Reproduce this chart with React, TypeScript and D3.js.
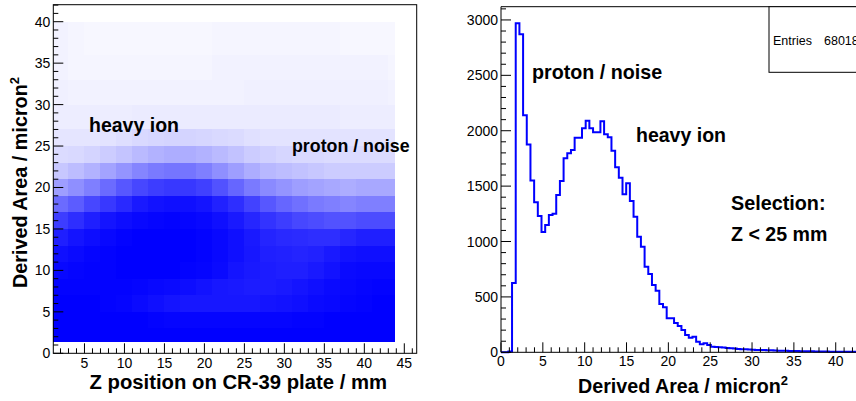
import React from 'react';
import * as d3 from 'd3';

// ---- left panel: Z position vs derived area, shown as a coverage map (% of pixels filled) ----
const zEdges = [1.1, 3, 5, 7, 9, 11, 13, 15, 17, 19, 21, 23, 25, 27, 29, 31, 33, 35, 37, 39, 41, 43, 43.8];
const areaEdges = [1.4, 3, 5, 7, 9, 11, 13, 15, 17, 19, 21, 23, 25, 27, 30, 33, 36, 40];
// one row per area band, bottom to top; one value per Z column
const coverage = [
  [100, 100, 100, 100, 100, 100, 100, 100, 100, 100, 100, 100, 100, 100, 100, 100, 100, 100, 100, 100, 100, 100],
  [100, 100, 100, 100, 100, 100, 99, 98, 98, 98, 98, 98, 98, 98, 98, 99, 99, 100, 100, 100, 100, 100],
  [100, 100, 100, 99, 98, 96, 94, 92, 91, 91, 91, 91, 91, 92, 93, 94, 96, 97, 98, 99, 100, 100],
  [99, 99, 99, 99, 99, 98, 97, 96, 95, 93, 91, 90, 89, 89, 90, 92, 94, 96, 97, 98, 99, 99],
  [97, 98, 99, 99, 100, 100, 100, 100, 99, 98, 96, 92, 90, 89, 88, 88, 90, 93, 96, 97, 97, 97],
  [94, 96, 98, 99, 100, 100, 100, 100, 100, 99, 97, 94, 91, 88, 87, 86, 87, 90, 93, 94, 94, 94],
  [88, 92, 95, 97, 99, 100, 100, 100, 100, 99, 97, 94, 90, 86, 84, 83, 82, 82, 85, 88, 88, 88],
  [76, 82, 88, 92, 95, 97, 98, 99, 98, 97, 94, 90, 85, 80, 76, 72, 70, 68, 68, 70, 70, 70],
  [58, 64, 72, 78, 84, 90, 93, 94, 94, 92, 87, 82, 74, 66, 60, 56, 52, 50, 48, 50, 50, 50],
  [38, 44, 50, 58, 66, 72, 76, 78, 78, 75, 68, 60, 52, 46, 42, 38, 36, 34, 32, 34, 34, 34],
  [22, 26, 30, 36, 42, 48, 52, 54, 54, 50, 44, 38, 32, 28, 26, 24, 22, 20, 20, 20, 20, 20],
  [14, 15, 17, 20, 23, 27, 30, 32, 32, 30, 27, 24, 20, 18, 16, 15, 15, 14, 14, 14, 14, 14],
  [10, 10, 10, 11, 13, 15, 16, 17, 17, 16, 15, 14, 12, 11, 11, 11, 11, 11, 11, 11, 11, 11],
  [7, 7, 7, 7, 7, 8, 8, 8, 8, 8, 8, 8, 8, 8, 8, 8, 8, 8, 7, 7, 7, 7],
  [6, 5, 5, 5, 5, 5, 5, 5, 5, 5, 5, 5, 6, 6, 6, 6, 6, 6, 6, 6, 6, 5],
  [5, 4, 4, 4, 4, 4, 4, 4, 4, 4, 5, 5, 5, 5, 5, 5, 5, 5, 5, 5, 5, 4],
  [5, 4, 3, 3, 3, 3, 3, 3, 3, 3, 4, 4, 4, 4, 4, 4, 4, 4, 3, 3, 3, 3],
];
const zTicks = [5, 10, 15, 20, 25, 30, 35, 40, 45];
const areaTicks = [0, 5, 10, 15, 20, 25, 30, 35, 40];

// ---- right panel: histogram of derived area, 100 bins of 0.44 ----
const binWidth = 0.44;
const histCounts = [
  0, 0, 8, 625, 2970, 2870, 2140, 1875, 1550, 1355,
  1230, 1085, 1150, 1240, 1250, 1420, 1546, 1751, 1796, 1826,
  1937, 1937, 2022, 2091, 2022, 1986, 1986, 2085, 1968, 1941,
  1820, 1670, 1576, 1426, 1526, 1366, 1224, 1044, 953, 773,
  707, 608, 556, 436, 406, 307, 307, 264, 237, 201,
  156, 132, 141, 96, 72, 81, 66, 51, 47, 45,
  44, 38, 36, 34, 29, 27, 27, 25, 22, 21,
  21, 20, 19, 18, 16, 15, 14, 13, 12, 12,
  11, 10, 10, 9, 9, 8, 8, 7, 7, 6,
  6, 6, 5, 5, 5, 4, 4, 4, 3, 3,
];
const histXTicks = [0, 5, 10, 15, 20, 25, 30, 35, 40];
const histYTicks = [0, 500, 1000, 1500, 2000, 2500, 3000];
const entries = 68018;

const font = "'Liberation Sans', Arial, Helvetica, sans-serif";

export default function App() {
  // left scales
  const zx = d3.scaleLinear().domain([1.1, 46.55]).range([53.3, 416.7]);
  const ay = d3.scaleLinear().domain([0, 42.05]).range([353.3, 4.7]);
  // right scales
  const hx = d3.scaleLinear().domain([0, 44]).range([501, 869.2]);
  const hy = d3.scaleLinear().domain([0, 3119.5]).range([352.3, 6.7]);

  const cells: { x0: number; x1: number; y0: number; y1: number; v: number }[] = [];
  coverage.forEach((row, r) =>
    row.forEach((v, c) =>
      cells.push({ x0: zEdges[c], x1: zEdges[c + 1], y0: areaEdges[r], y1: areaEdges[r + 1], v })
    )
  );

  const stepPts: [number, number][] = [];
  histCounts.forEach((n, i) => {
    stepPts.push([i * binWidth, n]);
    stepPts.push([(i + 1) * binWidth, n]);
  });
  const histPath = d3.line<[number, number]>().x(d => hx(d[0])).y(d => hy(d[1]))(
    [[0, 0], ...stepPts] as [number, number][]
  );

  const zMinor = d3.range(2, 47, 1);
  const aMinor = d3.range(0, 43, 1);
  const hxMinor = d3.range(0, 43, 1);
  const hyMinor = d3.range(0, 3101, 100);

  const lx0 = zx(1.1), lx1 = zx(46.55), ly0 = ay(0), ly1 = ay(42.05);
  const rx0 = hx(0), ry0 = hy(0), ry1 = hy(3119.5);

  return (
    <svg width={856} height={401} style={{ position: 'absolute', left: 0, top: 0, background: '#fff' }}
      fontFamily={font}>
      <rect x={0} y={0} width={856} height={401} fill="#fff" />

      {/* ---------- left scatter ---------- */}
      <g shapeRendering="crispEdges">
        {cells.map((d, i) => (
          <rect key={i} x={zx(d.x0)} y={ay(d.y1)} width={zx(d.x1) - zx(d.x0)} height={ay(d.y0) - ay(d.y1)}
            fill="#0000ff" fillOpacity={d.v / 100} />
        ))}
      </g>
      <rect x={lx0} y={ly1} width={lx1 - lx0} height={ly0 - ly1} fill="none" stroke="#000" strokeWidth={1} />
      <g stroke="#000" strokeWidth={1}>
        {aMinor.map(v => (
          <line key={'am' + v} x1={lx0} x2={lx0 + (v % 5 === 0 ? 10 : 5)} y1={ay(v)} y2={ay(v)} />
        ))}
        {zMinor.map(v => (
          <line key={'zm' + v} x1={zx(v)} x2={zx(v)} y1={ly0} y2={ly0 - (v % 5 === 0 ? 10 : 5)} />
        ))}
      </g>
      <g fontSize={14} fill="#000">
        {areaTicks.map(v => (
          <text key={'at' + v} x={lx0 - 3} y={ay(v) + 5} textAnchor="end">{v}</text>
        ))}
        {zTicks.map(v => (
          <text key={'zt' + v} x={zx(v)} y={368} textAnchor="middle">{v}</text>
        ))}
      </g>
      <text x={387} y={389} textAnchor="end" fontSize={20.3} fontWeight="bold">Z position on CR-39 plate / mm</text>
      <text transform="translate(27,77) rotate(-90)" textAnchor="end" fontSize={19.8} fontWeight="bold">
        Derived Area / micron<tspan dy={-8} fontSize={13}>2</tspan>
      </text>
      <text x={89} y={132} fontSize={19.5} fontWeight="bold">heavy ion</text>
      <text x={292} y={152} fontSize={17.8} fontWeight="bold">proton / noise</text>

      {/* ---------- right histogram ---------- */}
      <line x1={rx0} x2={856} y1={ry1} y2={ry1} stroke="#000" />
      <line x1={rx0} x2={rx0} y1={ry1} y2={ry0} stroke="#000" />
      <path d={histPath ?? ''} fill="none" stroke="#0000ff" strokeWidth={2} />
      <line x1={rx0} x2={856} y1={ry0} y2={ry0} stroke="#000" />
      <g stroke="#000" strokeWidth={1}>
        {hyMinor.map(v => (
          <line key={'hym' + v} x1={rx0} x2={rx0 + (v % 500 === 0 ? 10 : 5)} y1={hy(v)} y2={hy(v)} />
        ))}
        {hxMinor.map(v => (
          <line key={'hxm' + v} x1={hx(v)} x2={hx(v)} y1={ry0} y2={ry0 - (v % 5 === 0 ? 10 : 5)} />
        ))}
      </g>
      <g fontSize={14} fill="#000">
        {histYTicks.map(v => (
          <text key={'hyt' + v} x={rx0 - 3} y={hy(v) + 5} textAnchor="end">{v}</text>
        ))}
        {histXTicks.map(v => (
          <text key={'hxt' + v} x={hx(v)} y={366} textAnchor="middle">{v}</text>
        ))}
      </g>
      <text x={788} y={393} textAnchor="end" fontSize={19.7} fontWeight="bold">
        Derived Area / micron<tspan dy={-8} fontSize={13}>2</tspan>
      </text>
      <text x={532} y={79} fontSize={19.7} fontWeight="bold">proton / noise</text>
      <text x={636} y={142} fontSize={19.5} fontWeight="bold">heavy ion</text>
      <text x={731} y={210} fontSize={19.8} fontWeight="bold">Selection:</text>
      <text x={731} y={241} fontSize={19.6} fontWeight="bold">Z &lt; 25 mm</text>

      {/* stats box */}
      <rect x={769} y={ry1} width={120} height={72.3 - ry1} fill="#fff" stroke="#000" strokeWidth={1} />
      <text x={773} y={45} fontSize={12.5}>Entries</text>
      <text x={824} y={45} fontSize={12.5}>{entries}</text>
    </svg>
  );
}
